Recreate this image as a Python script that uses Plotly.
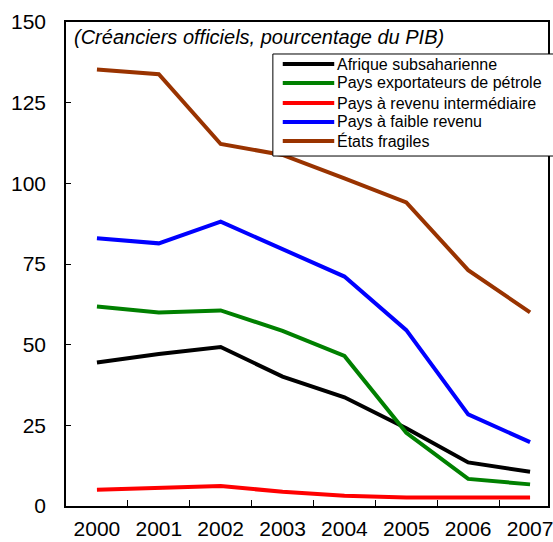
import plotly.graph_objects as go

# Data
years = ["2000", "2001", "2002", "2003", "2004", "2005", "2006", "2007"]
afrique = [44.5, 47.1, 49.3, 40.1, 33.7, 24.1, 13.5, 10.6]
petrole = [61.8, 60.0, 60.6, 54.3, 46.5, 22.7, 8.4, 6.7]
intermediaire = [5.0, 5.6, 6.2, 4.4, 3.2, 2.6, 2.6, 2.6]
faible = [83.0, 81.4, 88.1, 79.5, 71.1, 54.5, 28.4, 19.8]
fragiles = [135.3, 133.8, 112.2, 108.8, 101.5, 94.1, 73.1, 60.0]

names = ["Afrique subsaharienne", "Pays exportateurs de pétrole",
         "Pays à revenu intermédiaire", "Pays à faible revenu", "États fragiles"]
series = [afrique, petrole, intermediaire, faible, fragiles]
colors = ["#000000", "#008000", "#FF0000", "#0000FF", "#993300"]

font = "Arial, Liberation Sans, sans-serif"

fig = go.Figure()
for name, vals, col in zip(names, series, colors):
    fig.add_trace(go.Scatter(x=years, y=vals, name=name, mode="lines",
                             line=dict(color=col, width=4), showlegend=False))

# hand-made legend box (tighter rows than plotly's own legend)
shapes = [dict(type="rect", xref="paper", yref="paper", x0=0.4292, x1=1.05,
               y0=0.7231, y1=0.9339, line=dict(color="black", width=1),
               fillcolor="white", layer="above")]
annotations = [dict(text="<i>(Créanciers officiels, pourcentage du PIB)</i>",
                    xref="paper", yref="paper", x=0.012, y=0.968,
                    xanchor="left", yanchor="middle", showarrow=False,
                    font=dict(size=20))]
row_y = [0.9132, 0.8740, 0.8326, 0.7934, 0.7541]
for name, col, yy in zip(names, colors, row_y):
    shapes.append(dict(type="line", xref="paper", yref="paper", x0=0.4497,
                       x1=0.5565, y0=yy, y1=yy, layer="above",
                       line=dict(color=col, width=4)))
    annotations.append(dict(text=name, xref="paper", yref="paper", x=0.5585,
                            y=yy, xanchor="left", yanchor="middle",
                            showarrow=False, font=dict(size=16)))

fig.update_layout(
    width=553, height=542,
    margin=dict(l=66, r=0, t=22, b=36),
    plot_bgcolor="white", paper_bgcolor="white",
    font=dict(family=font, size=21, color="black"),
    shapes=shapes,
    annotations=annotations,
)

fig.update_xaxes(type="category", range=[-0.5, 7.29], tickson="boundaries",
                 ticks="inside", ticklen=6, tickcolor="black",
                 showline=True, linecolor="black", linewidth=1.5, mirror=True,
                 showgrid=False, ticklabelstandoff=3)
fig.update_yaxes(range=[0, 150], tickvals=[0, 25, 50, 75, 100, 125, 150],
                 ticks="inside", ticklen=5, tickcolor="black",
                 showline=True, linecolor="black", linewidth=1.5, mirror=True,
                 showgrid=False, zeroline=False, ticklabelstandoff=14)

fig.write_html("out.html", config={"displayModeBar": False},
               post_script="document.body.style.margin='0';")
